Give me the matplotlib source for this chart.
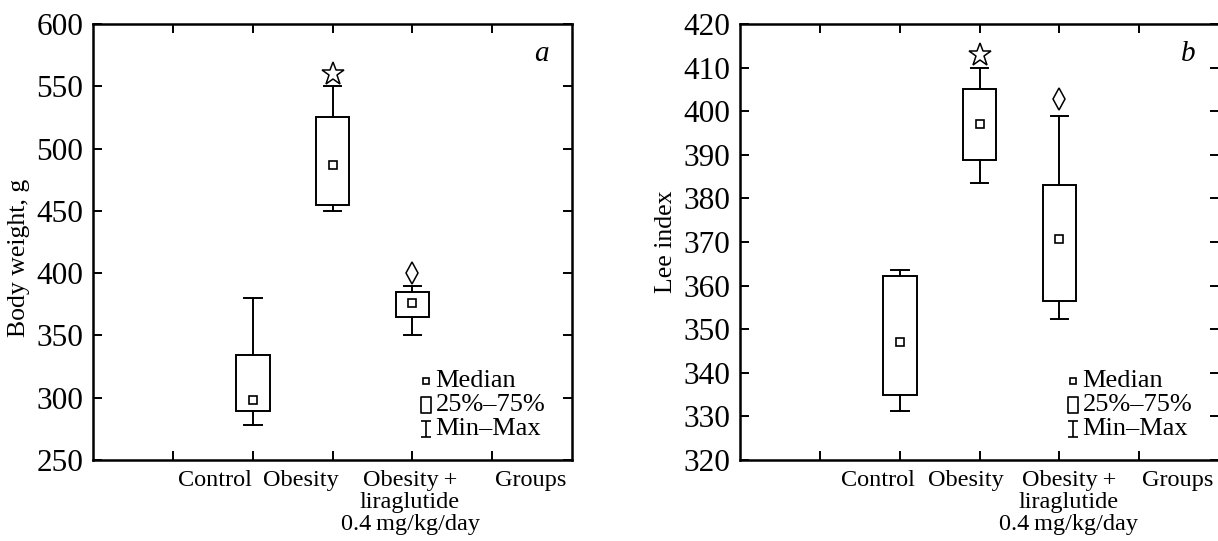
import matplotlib
matplotlib.use("Agg")
import matplotlib.pyplot as plt
from matplotlib.path import Path
import matplotlib.transforms as mtransforms

plt.rcParams['font.family'] = ['Liberation Serif', 'DejaVu Serif']

# group positions on the x axis (ticks at 1..5)
group_pos = [2, 3, 4]

# panel a: body weight, g  (min, q1, median, q3, max) per group
bw_min = [278.5, 449.5, 350.0]
bw_q1 = [289.0, 455.0, 364.5]
bw_med = [298.5, 486.5, 376.0]
bw_q3 = [334.0, 525.0, 384.5]
bw_max = [380.0, 550.5, 389.5]
bw_star = 560.0      # significance mark over Obesity
bw_diamond = 400.0   # significance mark over Obesity + liraglutide

# panel b: Lee index
lee_min = [331.3, 383.5, 352.4]
lee_q1 = [334.8, 388.9, 356.5]
lee_med = [347.1, 397.1, 370.8]
lee_q3 = [362.3, 405.2, 383.1]
lee_max = [363.6, 410.0, 399.0]
lee_star = 412.9
lee_diamond = 402.7

group_labels = ["Control", "Obesity", "Obesity\u2009+\nliraglutide\n0.4\u2009mg/kg/day", "Groups"]
legend_labels = ["Median", "25%\u201375%", "Min\u2013Max"]

# custom legend glyphs
box_marker = Path([(-0.35, -0.6), (0.35, -0.6), (0.35, 0.6), (-0.35, 0.6), (-0.35, -0.6)],
                  [Path.MOVETO, Path.LINETO, Path.LINETO, Path.LINETO, Path.CLOSEPOLY])
ibar_marker = Path([(-0.3, 0.5), (0.3, 0.5), (0, 0.5), (0, -0.5), (-0.3, -0.5), (0.3, -0.5)],
                   [Path.MOVETO, Path.LINETO, Path.MOVETO, Path.LINETO, Path.MOVETO, Path.LINETO])


def draw_panel(ax, mins, q1, med, q3, maxs, star, diamond, ylim, yticks, ylabel,
               letter, label_x, ylabel_y):
    box_w = 0.42
    cap_w = 0.22
    for x, lo, a, m, b, hi in zip(group_pos, mins, q1, med, q3, maxs):
        ax.add_patch(plt.Rectangle((x - box_w / 2, a), box_w, b - a,
                                   fill=False, lw=1.4, ec='black', zorder=3))
        ax.plot([x, x], [b, hi], color='black', lw=1.4)
        ax.plot([x, x], [lo, a], color='black', lw=1.4)
        ax.plot([x - cap_w / 2, x + cap_w / 2], [hi, hi], color='black', lw=1.4)
        ax.plot([x - cap_w / 2, x + cap_w / 2], [lo, lo], color='black', lw=1.4)
        ax.plot(x, m, marker='s', ms=5.5, mfc='white', mec='black', mew=1.2, zorder=4)

    ax.plot(group_pos[1], star, marker='*', ms=17, mfc='white', mec='black', mew=1.1)
    ax.plot(group_pos[2], diamond, marker='d', ms=11, mfc='white', mec='black', mew=1.1)

    ax.set_xlim(0, 6)
    ax.set_ylim(*ylim)
    ax.set_xticks([1, 2, 3, 4, 5])
    ax.set_xticklabels([])
    ax.set_yticks(yticks)
    ax.tick_params(direction='in', top=True, right=True, length=6.5, width=1.4,
                   labelsize=22.5, pad=7)
    for s in ax.spines.values():
        s.set_linewidth(1.8)

    ax.set_ylabel(ylabel, fontsize=18.5)
    ax.yaxis.set_label_coords(-0.131, ylabel_y)

    trans = mtransforms.blended_transform_factory(ax.transData, ax.transAxes)
    for lx, lab in zip(label_x, group_labels):
        ax.text(lx, -0.022, lab, transform=trans, ha='center', va='top',
                fontsize=17.5, linespacing=1.08, multialignment='center')

    ax.text(0.935, 0.93, letter, transform=ax.transAxes, ha='center', va='center',
            fontsize=21, style='italic')

    # legend
    rows = [0.182, 0.127, 0.072]
    markers = ['s', box_marker, ibar_marker]
    sizes = [5, 12, 12]
    for y, mk, sz, lab in zip(rows, markers, sizes, legend_labels):
        ax.plot(0.695, y, marker=mk, ms=sz, mfc='white', mec='black', mew=1.2,
                transform=ax.transAxes, clip_on=False)
        ax.text(0.715, y, lab, transform=ax.transAxes, ha='left', va='center',
                fontsize=19)


fig = plt.figure(figsize=(12.18, 5.41), dpi=100)
ax_a = fig.add_axes([0.0764, 0.1497, 0.3933, 0.806])
ax_b = fig.add_axes([0.6076, 0.1497, 0.3933, 0.806])

draw_panel(ax_a, bw_min, bw_q1, bw_med, bw_q3, bw_max, bw_star, bw_diamond,
           (250, 600), range(250, 601, 50), "Body weight, g", "a",
           [1.53, 2.6, 3.97, 5.48], 0.463)
draw_panel(ax_b, lee_min, lee_q1, lee_med, lee_q3, lee_max, lee_star, lee_diamond,
           (320, 420), range(320, 421, 10), "Lee index", "b",
           [1.73, 2.83, 4.12, 5.48], 0.5)

fig.savefig("out.png", dpi=100)
